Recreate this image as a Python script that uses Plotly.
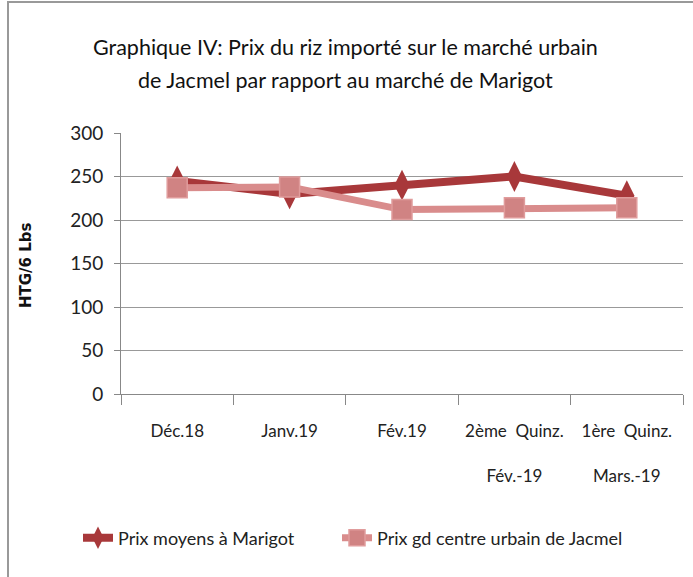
import plotly.graph_objects as go

categories = ["Déc.18", "Janv.19", "Fév.19", "2ème  Quinz.<br> <br>Fév.-19", "1ère  Quinz.<br> <br>Mars.-19"]
marigot = [245, 230, 240, 250, 228]
jacmel = [237, 238, 212, 214, 214]
y_ticks = [0, 50, 100, 150, 200, 250, 300]
title_lines = ["Graphique IV: Prix du riz importé sur le marché urbain",
               "de Jacmel par rapport au marché de Marigot"]

FONT = "Lato, Open Sans, sans-serif"
L, R, T, B = 121, 10, 133, 183
PW, PH = 693 - L - R, 577 - T - B

def px_x(x):
    return (x - L) / PW

def px_y(y):
    return (577 - B - y) / PH

fig = go.Figure()
fig.add_trace(go.Scatter(
    x=categories, y=marigot, name="Prix moyens à Marigot", mode="lines+markers",
    line=dict(color="#A8383A", width=8),
    marker=dict(symbol="diamond-tall", size=22, color="#A8383A"),
    legend="legend",
))
fig.add_trace(go.Scatter(
    x=categories, y=jacmel, name="Prix gd centre urbain de Jacmel", mode="lines+markers",
    line=dict(color="#D98C8C", width=7),
    marker=dict(symbol="square", size=20, color="#D08383", line=dict(color="#E09C9C", width=1.5)),
    legend="legend2",
))

annotations = [
    dict(text=title_lines[0], x=px_x(345), xref="paper", xanchor="center", y=px_y(47), yref="paper",
         yanchor="middle", showarrow=False, font=dict(family=FONT, size=21.5, color="#111")),
    dict(text=title_lines[1], x=px_x(345), xref="paper", xanchor="center", y=px_y(80), yref="paper",
         yanchor="middle", showarrow=False, font=dict(family=FONT, size=21.5, color="#111")),
    dict(text="<b>HTG/6 Lbs</b>", x=px_x(26), xref="paper", xanchor="center", y=px_y(265), yref="paper",
         yanchor="middle", textangle=-90, showarrow=False,
         font=dict(family="DejaVu Sans, sans-serif", size=15, color="#111")),
]

legend_style = dict(orientation="h", xanchor="left", yanchor="middle", y=px_y(538),
                    font=dict(family=FONT, size=18, color="#222"), bgcolor="rgba(0,0,0,0)")

fig.update_layout(
    width=693, height=577,
    margin=dict(l=L, r=R, t=T, b=B, autoexpand=False),
    paper_bgcolor="white", plot_bgcolor="white",
    font=dict(family=FONT, size=17, color="#222"),
    showlegend=True,
    xaxis=dict(
        type="category", showgrid=False, showline=True, linecolor="#888", linewidth=1,
        ticks="outside", ticklen=10, tickcolor="#888", tickson="boundaries",
        ticklabelstandoff=22, tickangle=0, automargin=False,
        tickfont=dict(family=FONT, size=17, color="#222"),
        range=[-0.5, 4.5],
    ),
    yaxis=dict(
        range=[0, 300], tickvals=y_ticks, showgrid=True, gridcolor="#999", gridwidth=1,
        showline=True, linecolor="#888", ticks="outside", ticklen=6, tickcolor="#888",
        zeroline=False, automargin=False, ticklabelstandoff=7,
        tickfont=dict(family=FONT, size=19, color="#222"),
    ),
    legend=dict(x=px_x(78), **legend_style),
    legend2=dict(x=px_x(337), **legend_style),
    annotations=annotations,
    shapes=[dict(type="rect", xref="paper", yref="paper", x0=px_x(8), x1=px_x(720),
                 y0=px_y(600), y1=px_y(2), line=dict(color="#999", width=2))],
)

fig.write_html("out.html", config={"displayModeBar": False},
               post_script="document.body.style.margin='0';document.body.style.overflow='hidden';")
